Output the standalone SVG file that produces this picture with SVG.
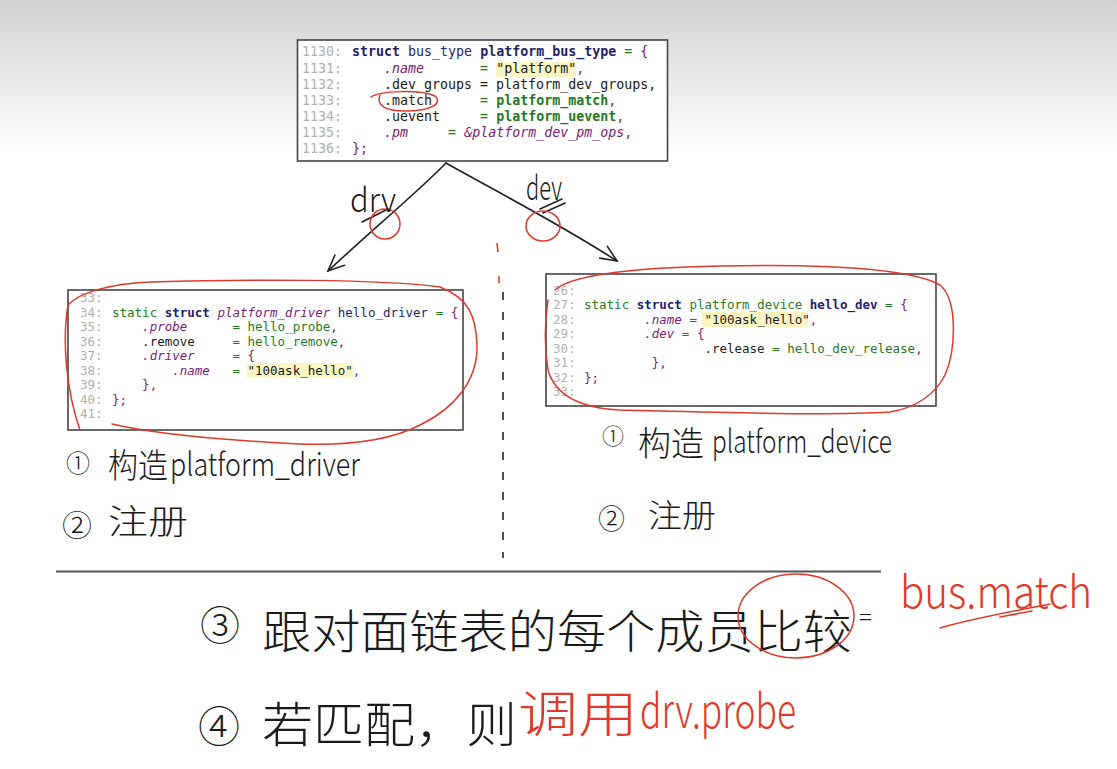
<svg xmlns="http://www.w3.org/2000/svg" width="1117" height="769" viewBox="0 0 1117 769">
<style>
.code text{font-family:"DejaVu Sans Mono","Liberation Mono",monospace;fill:#1a1a1a;white-space:pre}
.top{font-size:13.3px}
.sm{font-size:12.5px}
.n{fill:#b0b0b0}
.kw{fill:#1e1e6e;font-weight:bold}
.ty{fill:#26267a}
.nv{fill:#1e1e6e}
.g{fill:#1f7a1f}
.gb{fill:#1f7a1f;font-weight:bold}
.p{fill:#7a1a7a}
.pi{fill:#7a1a7a;font-style:italic}
.box{fill:#fff;stroke:#444;stroke-width:1.6}
.hl{fill:#fbf5c4}
.hand{font-family:"Noto Sans CJK SC","Noto Sans",sans-serif;font-weight:300;fill:#1a1a1a}
.handr{font-family:"Noto Sans CJK SC","Noto Sans",sans-serif;font-weight:300;fill:#e0392b}
.red{fill:none;stroke:#e0392b;stroke-width:1.5;stroke-linecap:round}
.ink{fill:none;stroke:#222;stroke-width:1.6;stroke-linecap:round}
</style>
<defs>
<linearGradient id="bg" x1="0" y1="0" x2="0" y2="1">
<stop offset="0" stop-color="#d2d2d2"/>
<stop offset="0.2" stop-color="#ffffff"/>
<stop offset="1" stop-color="#ffffff"/>
</linearGradient>
<marker id="vh" viewBox="0 0 20 20" refX="18" refY="10" markerWidth="20" markerHeight="20" markerUnits="userSpaceOnUse" orient="auto">
<path d="M2,3 L18,10 L2,17" fill="none" stroke="#222" stroke-width="1.6" stroke-linecap="round"/>
</marker>
</defs>
<rect width="1117" height="769" fill="url(#bg)"/>

<g id="bus_type_box">
<rect class="box" x="297.5" y="40" width="370" height="121"/>
<rect class="hl" x="496" y="62" width="80" height="15"/>
<g class="code top">
<text x="302" y="56"><tspan class="n">1130:</tspan></text>
<text x="302" y="73"><tspan class="n">1131:</tspan></text>
<text x="302" y="89"><tspan class="n">1132:</tspan></text>
<text x="302" y="105"><tspan class="n">1133:</tspan></text>
<text x="302" y="121"><tspan class="n">1134:</tspan></text>
<text x="302" y="137"><tspan class="n">1135:</tspan></text>
<text x="302" y="153"><tspan class="n">1136:</tspan></text>
<text x="352" y="56" xml:space="preserve"><tspan class="kw">struct</tspan> <tspan class="ty">bus_type</tspan> <tspan class="kw">platform_bus_type</tspan> <tspan class="g">=</tspan> <tspan class="p">{</tspan></text>
<text x="352" y="73" xml:space="preserve">    <tspan class="pi">.name</tspan>       <tspan class="g">=</tspan> "platform"<tspan class="p">,</tspan></text>
<text x="352" y="89" xml:space="preserve">    .dev_groups = platform_dev_groups,</text>
<text x="352" y="105" xml:space="preserve">    .match      <tspan class="g">=</tspan> <tspan class="gb">platform_match</tspan><tspan class="p">,</tspan></text>
<text x="352" y="121" xml:space="preserve">    .uevent     <tspan class="g">=</tspan> <tspan class="gb">platform_uevent</tspan><tspan class="p">,</tspan></text>
<text x="352" y="137" xml:space="preserve">    <tspan class="pi">.pm</tspan>     <tspan class="g">=</tspan> <tspan class="pi">&amp;platform_dev_pm_ops</tspan><tspan class="p">,</tspan></text>
<text x="352" y="153"><tspan class="p">};</tspan></text>
</g>
<path class="red" d="M371,97 C380,91 420,89 435,96 C443,103 432,111 405,111 C386,111 376,106 380,95"/>
</g>

<g id="hello_driver_box">
<rect class="box" x="68" y="290" width="395" height="140"/>
<rect class="hl" x="247" y="363" width="106" height="15"/>
<g class="code sm">
<text x="80" y="302"><tspan class="n">33:</tspan></text>
<text x="80" y="316.5"><tspan class="n">34:</tspan></text>
<text x="80" y="331"><tspan class="n">35:</tspan></text>
<text x="80" y="345.5"><tspan class="n">36:</tspan></text>
<text x="80" y="360"><tspan class="n">37:</tspan></text>
<text x="80" y="374.5"><tspan class="n">38:</tspan></text>
<text x="80" y="389"><tspan class="n">39:</tspan></text>
<text x="80" y="403.5"><tspan class="n">40:</tspan></text>
<text x="80" y="418"><tspan class="n">41:</tspan></text>
<text x="112" y="316.5" xml:space="preserve"><tspan class="g">static</tspan> <tspan class="kw">struct</tspan> <tspan class="pi">platform_driver</tspan> <tspan class="nv">hello_driver</tspan> <tspan class="g">=</tspan> <tspan class="p">{</tspan></text>
<text x="112" y="331" xml:space="preserve">    <tspan class="pi">.probe</tspan>      <tspan class="g">= hello_probe</tspan><tspan class="p">,</tspan></text>
<text x="112" y="345.5" xml:space="preserve">    .remove     <tspan class="g">= hello_remove</tspan><tspan class="p">,</tspan></text>
<text x="112" y="360" xml:space="preserve">    <tspan class="pi">.driver</tspan>     <tspan class="g">=</tspan> <tspan class="p">{</tspan></text>
<text x="112" y="374.5" xml:space="preserve">        <tspan class="pi">.name</tspan>   <tspan class="g">=</tspan> "100ask_hello"<tspan class="p">,</tspan></text>
<text x="112" y="389" xml:space="preserve">    <tspan class="p">},</tspan></text>
<text x="112" y="403.5"><tspan class="p">};</tspan></text>
</g>
<path class="red" d="M112,424 C150,433 220,440 300,444 C360,446 395,438 420,425 C455,408 478,380 477,345 C476,315 468,298 440,287 C380,279 250,279 150,282 C110,284 80,292 68,305 C62,340 66,390 80,430"/>
</g>

<g id="hello_dev_box">
<rect class="box" x="546" y="274" width="390" height="132"/>
<rect class="hl" x="702" y="312" width="106" height="15"/>
<g class="code sm">
<text x="553" y="295"><tspan class="n">26:</tspan></text>
<text x="553" y="309"><tspan class="n">27:</tspan></text>
<text x="553" y="323.5"><tspan class="n">28:</tspan></text>
<text x="553" y="338"><tspan class="n">29:</tspan></text>
<text x="553" y="352.5"><tspan class="n">30:</tspan></text>
<text x="553" y="367"><tspan class="n">31:</tspan></text>
<text x="553" y="381.5"><tspan class="n">32:</tspan></text>
<text x="553" y="396"><tspan class="n">33:</tspan></text>
<text x="584" y="309" xml:space="preserve"><tspan class="g">static</tspan> <tspan class="kw">struct</tspan> <tspan class="g">platform_device</tspan> <tspan class="kw">hello_dev</tspan> <tspan class="g">=</tspan> <tspan class="p">{</tspan></text>
<text x="584" y="323.5" xml:space="preserve">        <tspan class="pi">.name</tspan> <tspan class="g">=</tspan> "100ask_hello"<tspan class="p">,</tspan></text>
<text x="584" y="338" xml:space="preserve">        <tspan class="pi">.dev</tspan> <tspan class="g">=</tspan> <tspan class="p">{</tspan></text>
<text x="584" y="352.5" xml:space="preserve">                .release <tspan class="g">= hello_dev_release</tspan><tspan class="p">,</tspan></text>
<text x="584" y="367" xml:space="preserve">         <tspan class="p">},</tspan></text>
<text x="584" y="381.5"><tspan class="p">};</tspan></text>
</g>
<path class="red" d="M555,290 C570,276 620,268 720,266 C820,264 910,268 940,285 C958,300 956,350 945,375 C935,395 915,408 890,412 C820,416 700,412 620,410 C580,408 555,395 548,370 C544,345 545,320 548,300"/>
</g>

<g id="connectors">
<path class="ink" d="M446,163 C420,190 372,230 328,271" marker-end="url(#vh)"/>
<path class="ink" d="M446,163 C490,188 560,224 617,261" marker-end="url(#vh)"/>
<path class="ink" d="M362,222 L388,209"/>
<path class="ink" d="M540,209 L562,199 M543,213 L565,203"/>
<ellipse class="red" cx="385" cy="224" rx="15" ry="15"/>
<ellipse class="red" cx="543" cy="226" rx="17" ry="15"/>
</g>

<g id="label_drv"><text class="hand" x="350" y="212" font-size="34" textLength="46" lengthAdjust="spacingAndGlyphs">drv</text></g>
<g id="label_dev"><text class="hand" x="526" y="200" font-size="34" textLength="36" lengthAdjust="spacingAndGlyphs">dev</text></g>

<g id="divider">
<path d="M497,243 L498,252 M499,276 L499,283" fill="none" stroke="#e0392b" stroke-width="1.6"/>
<path d="M503,292 L503,558" fill="none" stroke="#222" stroke-width="1.6" stroke-dasharray="8 12"/>
<path d="M56,571.5 L881,571.5" fill="none" stroke="#555" stroke-width="2"/>
</g>

<g id="drv_steps">
<text class="hand" x="66" y="472" font-size="24">①</text>
<text class="hand" x="108" y="478" font-size="34" textLength="60" lengthAdjust="spacingAndGlyphs">构造</text>
<text class="hand" x="170" y="476" font-size="32" textLength="190" lengthAdjust="spacingAndGlyphs">platform_driver</text>
<text class="hand" x="62" y="536" font-size="30">②</text>
<text class="hand" x="108" y="534" font-size="34" textLength="80" lengthAdjust="spacingAndGlyphs">注册</text>
</g>

<g id="dev_steps">
<text class="hand" x="602" y="444" font-size="22">①</text>
<text class="hand" x="638" y="456" font-size="34" textLength="66" lengthAdjust="spacingAndGlyphs">构造</text>
<text class="hand" x="712" y="453" font-size="32" textLength="180" lengthAdjust="spacingAndGlyphs">platform_device</text>
<text class="hand" x="598" y="529" font-size="27">②</text>
<text class="hand" x="648" y="527" font-size="32" textLength="68" lengthAdjust="spacingAndGlyphs">注册</text>
</g>

<g id="step3">
<text class="hand" x="200" y="640" font-size="40">③</text>
<text class="hand" x="262" y="648" font-size="46" textLength="590" lengthAdjust="spacingAndGlyphs">跟对面链表的每个成员比较</text>
<ellipse class="red" cx="796" cy="616" rx="58" ry="42"/>
<text class="hand" x="859" y="626" font-size="24">=</text>
<text class="handr" x="900" y="608" font-size="44" textLength="192" lengthAdjust="spacingAndGlyphs">bus.match</text>
<path class="red" d="M940,628 C970,619 1010,612 1050,604 M1000,617 L1032,611"/>
</g>

<g id="step4">
<text class="hand" x="198" y="742" font-size="42">④</text>
<text class="hand" x="262" y="742" font-size="48" textLength="255" lengthAdjust="spacingAndGlyphs">若匹配，则</text>
<text class="handr" x="518" y="732" font-size="50" textLength="120" lengthAdjust="spacingAndGlyphs">调用</text>
<text class="handr" x="640" y="728" font-size="46" textLength="156" lengthAdjust="spacingAndGlyphs">drv.probe</text>
</g>
</svg>
